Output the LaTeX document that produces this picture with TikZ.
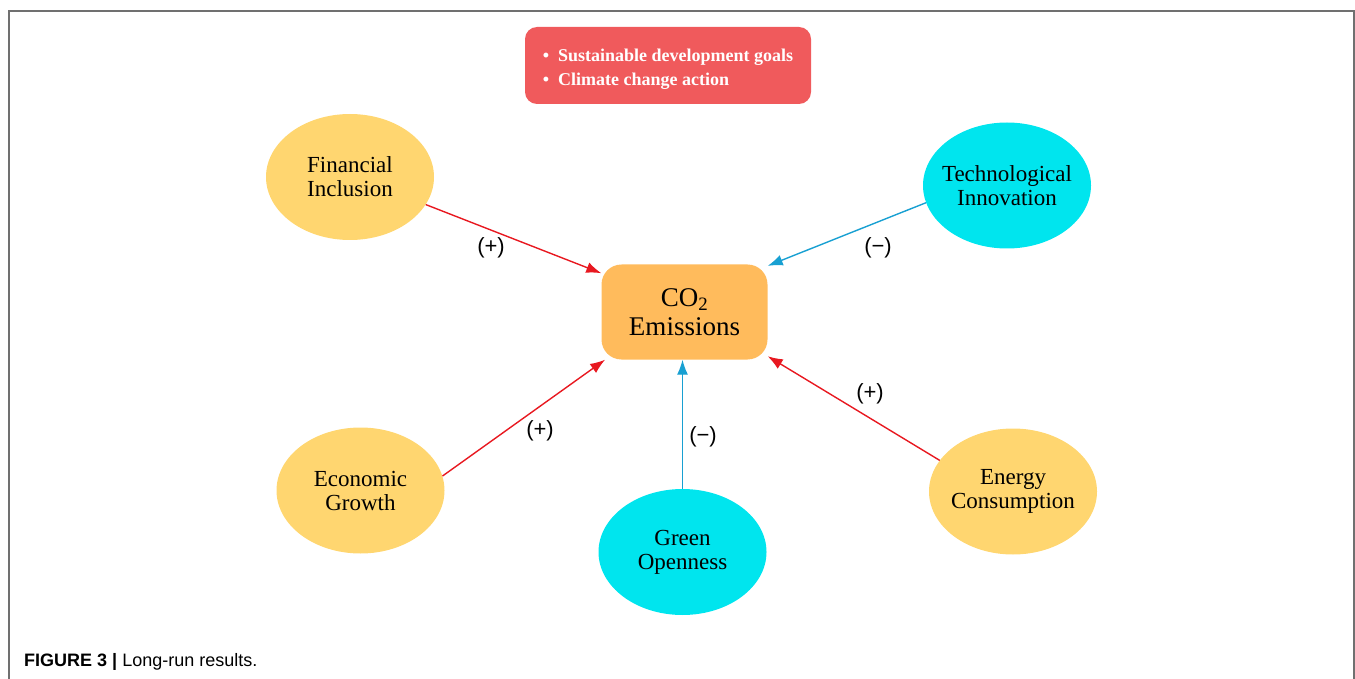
\documentclass[tikz,border=0pt]{standalone}
\usepackage{fontspec}
\setmainfont{Liberation Serif}
\setsansfont{Liberation Sans}
\usetikzlibrary{shapes.geometric,arrows.meta}
\definecolor{goalred}{RGB}{240,90,92}
\definecolor{facyellow}{RGB}{255,214,112}
\definecolor{faccyan}{RGB}{0,229,238}
\definecolor{co2orange}{RGB}{255,187,92}
\definecolor{arrred}{RGB}{232,24,32}
\definecolor{arrblue}{RGB}{24,160,210}
\definecolor{framegray}{RGB}{112,112,112}
\begin{document}
\begin{tikzpicture}[x=1pt,y=-1pt,
		factor/.style={ellipse,minimum width=168pt,minimum height=126pt,
			inner sep=-20pt,align=center,font=\fontsize{23}{24}\selectfont},
		posfac/.style={factor,fill=facyellow},
		negfac/.style={factor,fill=faccyan},
		posarrow/.style={draw=arrred,line width=1.4pt,-{Latex[length=15pt,width=11pt]}},
		negarrow/.style={draw=arrblue,line width=1.4pt,-{Latex[length=15pt,width=11pt]}},
		sign/.style={font=\sffamily\fontsize{22}{22}\selectfont}]
	\useasboundingbox (0,0) rectangle (1355,679);
	% frame, open at the bottom
	\draw[framegray,line width=2pt] (9,679) -- (9,11) -- (1354,11) -- (1354,679);
	% goals box
	\node[fill=goalred,rounded corners=12pt,minimum width=286pt,minimum height=77pt]
		(goals) at (668,65.5) {};
	\node[align=left,text=white,font=\bfseries\fontsize{18}{24}\selectfont]
		(goaltext) at ([yshift=-4pt]goals.center)
		{\textbullet\hspace{0.5em}Sustainable development goals\\
		\textbullet\hspace{0.5em}Climate change action};
	% centre
	\node[fill=co2orange,rounded corners=20pt,minimum width=166pt,minimum height=95pt,
		align=center,font=\fontsize{27}{29}\selectfont]
		(co2) at (684.5,312) {CO\textsubscript{2}\\Emissions};
	% factors
	\node[posfac] (fi) at (350,177) {Financial\\Inclusion};
	\node[negfac] (ti) at (1007,185.5) {Technological\\Innovation};
	\node[posfac] (eg) at (360.5,490.5) {Economic\\Growth};
	\node[negfac] (go) at (682.5,552) {Green\\Openness};
	\node[posfac] (ec) at (1013,491.5) {Energy\\Consumption};
	% links
	\draw[posarrow] (fi.-20) -- (co2.155);
	\draw[negarrow] (ti.192) -- (co2.29);
	\draw[posarrow] (eg.10) -- (co2.211);
	\draw[negarrow] (go.north) -- (go.north |- co2.south);
	\draw[posarrow] (ec.157) -- (co2.-28);
	\node[sign] (fisign) at (491,248) {(+)};
	\node[sign] (tisign) at (878,248) {(\char"2212)};
	\node[sign] (egsign) at (540,431) {(+)};
	\node[sign] (gosign) at (703,437) {(\char"2212)};
	\node[sign] (ecsign) at (870,394) {(+)};
	% caption
	\node[anchor=base west,inner sep=0pt,font=\sffamily\fontsize{18}{18}\selectfont]
		(caption) at (24,666) {\textbf{FIGURE 3 |} Long-run results.};
\end{tikzpicture}
\end{document}
